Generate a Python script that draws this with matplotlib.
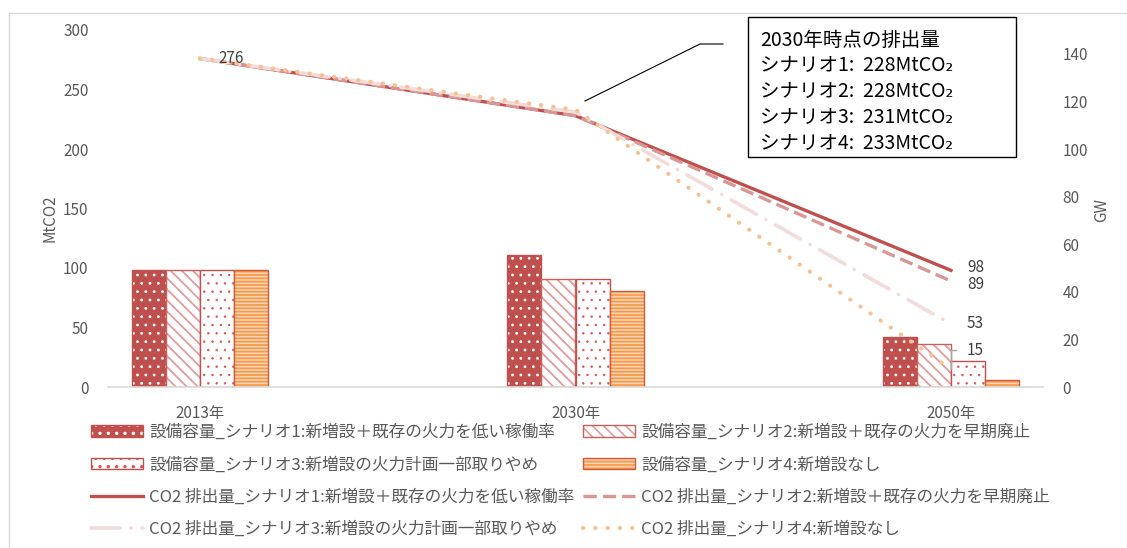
import numpy as np
import matplotlib
matplotlib.use('Agg')
import matplotlib.pyplot as plt
from matplotlib.patches import Patch, Rectangle
from matplotlib.lines import Line2D

plt.rcParams['font.family'] = ['Noto Sans CJK JP', 'DejaVu Sans']
plt.rcParams['hatch.linewidth'] = 1.2

# data
years = ['2013年', '2030年', '2050年']
cap_s1 = [49, 55.5, 21]      # GW
cap_s2 = [49, 45.5, 18]
cap_s3 = [49, 45.5, 11]
cap_s4 = [49, 40.5, 3]
co2_s1 = [276, 228, 98]      # MtCO2
co2_s2 = [276, 228, 89]
co2_s3 = [276, 231, 53]
co2_s4 = [276, 233, 15]
cap_labels = ['設備容量_シナリオ1:新増設＋既存の火力を低い稼働率',
              '設備容量_シナリオ2:新増設＋既存の火力を早期廃止',
              '設備容量_シナリオ3:新増設の火力計画一部取りやめ',
              '設備容量_シナリオ4:新増設なし']
co2_labels = ['CO2 排出量_シナリオ1:新増設＋既存の火力を低い稼働率',
              'CO2 排出量_シナリオ2:新増設＋既存の火力を早期廃止',
              'CO2 排出量_シナリオ3:新増設の火力計画一部取りやめ',
              'CO2 排出量_シナリオ4:新増設なし']
callout = ['2030年時点の排出量',
           'シナリオ1:  228MtCO₂',
           'シナリオ2:  228MtCO₂',
           'シナリオ3:  231MtCO₂',
           'シナリオ4:  233MtCO₂']

W, H = 1127, 548
def px(x, y):
    return x / W, 1 - y / H

red = '#C0504D'
grey = '#595959'

fig = plt.figure(figsize=(W / 100, H / 100), dpi=100)
ax = fig.add_axes([108 / W, 1 - 387 / H, (1043 - 108) / W, (387 - 30) / H])
ax2 = ax.twinx()

x = np.arange(len(years))
w = 0.0907

# bar styles: (face, hatch colour, hatch, outline, hatch lw)
bar_styles = [
    (red, 'white', '..', red, 0.8),
    ('white', '#E39C9A', '\\\\\\', '#C9605D', 1.3),
    ('white', '#D9534F', '..', red, 0.5),
    ('#FCD5B4', '#F79646', '-----', '#D2593C', 1.2),
]
caps = [cap_s1, cap_s2, cap_s3, cap_s4]
bar_handles = []
for i, (vals, (fc, hc, hatch, ec, hlw)) in enumerate(zip(caps, bar_styles)):
    pos = x + (i - 1.5) * w
    with plt.rc_context({'hatch.linewidth': hlw}):
        ax.bar(pos, vals, w, color=fc, edgecolor=hc, hatch=hatch, linewidth=0)
        hp = Patch(facecolor=fc, edgecolor=hc, hatch=hatch, linewidth=0)
    ax.bar(pos, vals, w, facecolor='none', edgecolor=ec, linewidth=1.0)
    bar_handles.append((hp, Patch(facecolor='none', edgecolor=ec, linewidth=1.0)))

# lines
line_styles = [
    dict(color=red, linestyle='-', lw=2.4),
    dict(color='#D99694', linestyle=(0, (4, 1.8)), lw=2.4),
    dict(color='#F2DCDB', linestyle=(0, (8, 3, 0.05, 3)), lw=2.6, dash_capstyle='round'),
    dict(color='#FAC090', linestyle=(0, (0.05, 2.9)), lw=3.0, dash_capstyle='round'),
]
co2 = [co2_s1, co2_s2, co2_s3, co2_s4]
line_handles = []
for vals, st in zip(co2, line_styles):
    ax2.plot(x, vals, **st)
    line_handles.append(Line2D([], [], **st))

# data labels
lab = dict(fontsize=11, color='#404040', va='center', ha='left', textcoords='offset pixels')
ax2.annotate(str(co2_s1[0]), (x[0], co2_s1[0]), xytext=(18, 0), **lab)
ax2.annotate(str(co2_s1[2]), (x[2], co2_s1[2]), xytext=(16, 3), **lab)
ax2.annotate(str(co2_s2[2]), (x[2], co2_s2[2]), xytext=(16, -3), **lab)
ax2.annotate(str(co2_s3[2]), (x[2], co2_s3[2]), xytext=(16, 0), **lab)
ax2.annotate(str(co2_s4[2]), (x[2], co2_s4[2]), xytext=(16, 19), **lab,
             arrowprops=dict(arrowstyle='-', color='#A6A6A6', lw=1,
                             connectionstyle='angle,angleA=0,angleB=90,rad=0',
                             shrinkA=6, shrinkB=0))

# axes
ax.set_xlim(-0.245, 2.245)
ax.set_ylim(0, 150)
ax2.set_ylim(0, 300)
ax.set_yticks(np.arange(0, 141, 20))
ax2.set_yticks(np.arange(0, 301, 50))
ax.yaxis.tick_right()
ax2.yaxis.tick_left()
ax.set_xticks(x)
ax.set_xticklabels(years)
for a in (ax, ax2):
    for s in a.spines.values():
        s.set_visible(False)
    a.tick_params(length=0, labelcolor=grey, labelsize=11)
ax.tick_params(axis='y', pad=14)
ax2.tick_params(axis='y', pad=14)
ax.tick_params(axis='x', pad=13)
ax.spines['bottom'].set_visible(True)
ax.spines['bottom'].set_color('#D9D9D9')
ax.spines['bottom'].set_linewidth(1.2)

fig.text(*px(50, 218), 'MtCO2', rotation=90, ha='center', va='center', fontsize=11, color=grey)
fig.text(*px(1102, 210), 'GW', rotation=90, ha='center', va='center', fontsize=11, color=grey)

# callout
x0, y0 = px(748, 157)
x1, y1 = px(1016, 17)
fig.add_artist(Rectangle((x0, y0), x1 - x0, y1 - y0, transform=fig.transFigure,
                         facecolor='white', edgecolor='black', lw=1.0, zorder=5))
for k, t in enumerate(callout):
    fig.text(*px(760, 40 + k * 25.8), t, ha='left', va='center', fontsize=14,
             color='black', zorder=6)
lx, ly = zip(px(585, 101), px(700, 44), px(723, 44))
fig.add_artist(Line2D(lx, ly, transform=fig.transFigure, color='black', lw=0.8))

# chart border
bx, by = px(9, 600)
fig.add_artist(Rectangle((bx, by), 2, px(0, 13)[1] - by, transform=fig.transFigure,
                         facecolor='none', edgecolor='#D9D9D9', lw=1.0))

# legend (row-major order)
handles = [bar_handles[0], bar_handles[2], line_handles[0], line_handles[2],
           bar_handles[1], bar_handles[3], line_handles[1], line_handles[3]]
labels = [cap_labels[0], cap_labels[2], co2_labels[0], co2_labels[2],
          cap_labels[1], cap_labels[3], co2_labels[1], co2_labels[3]]
fig.legend(handles, labels, ncol=2, loc='upper left', bbox_to_anchor=px(91, 424),
           frameon=False, fontsize=12, handlelength=3.1, handletextpad=0.4,
           labelspacing=0.92, columnspacing=0.5, borderpad=0, borderaxespad=0,
           labelcolor=grey)

fig.savefig('out.png', dpi=100)
